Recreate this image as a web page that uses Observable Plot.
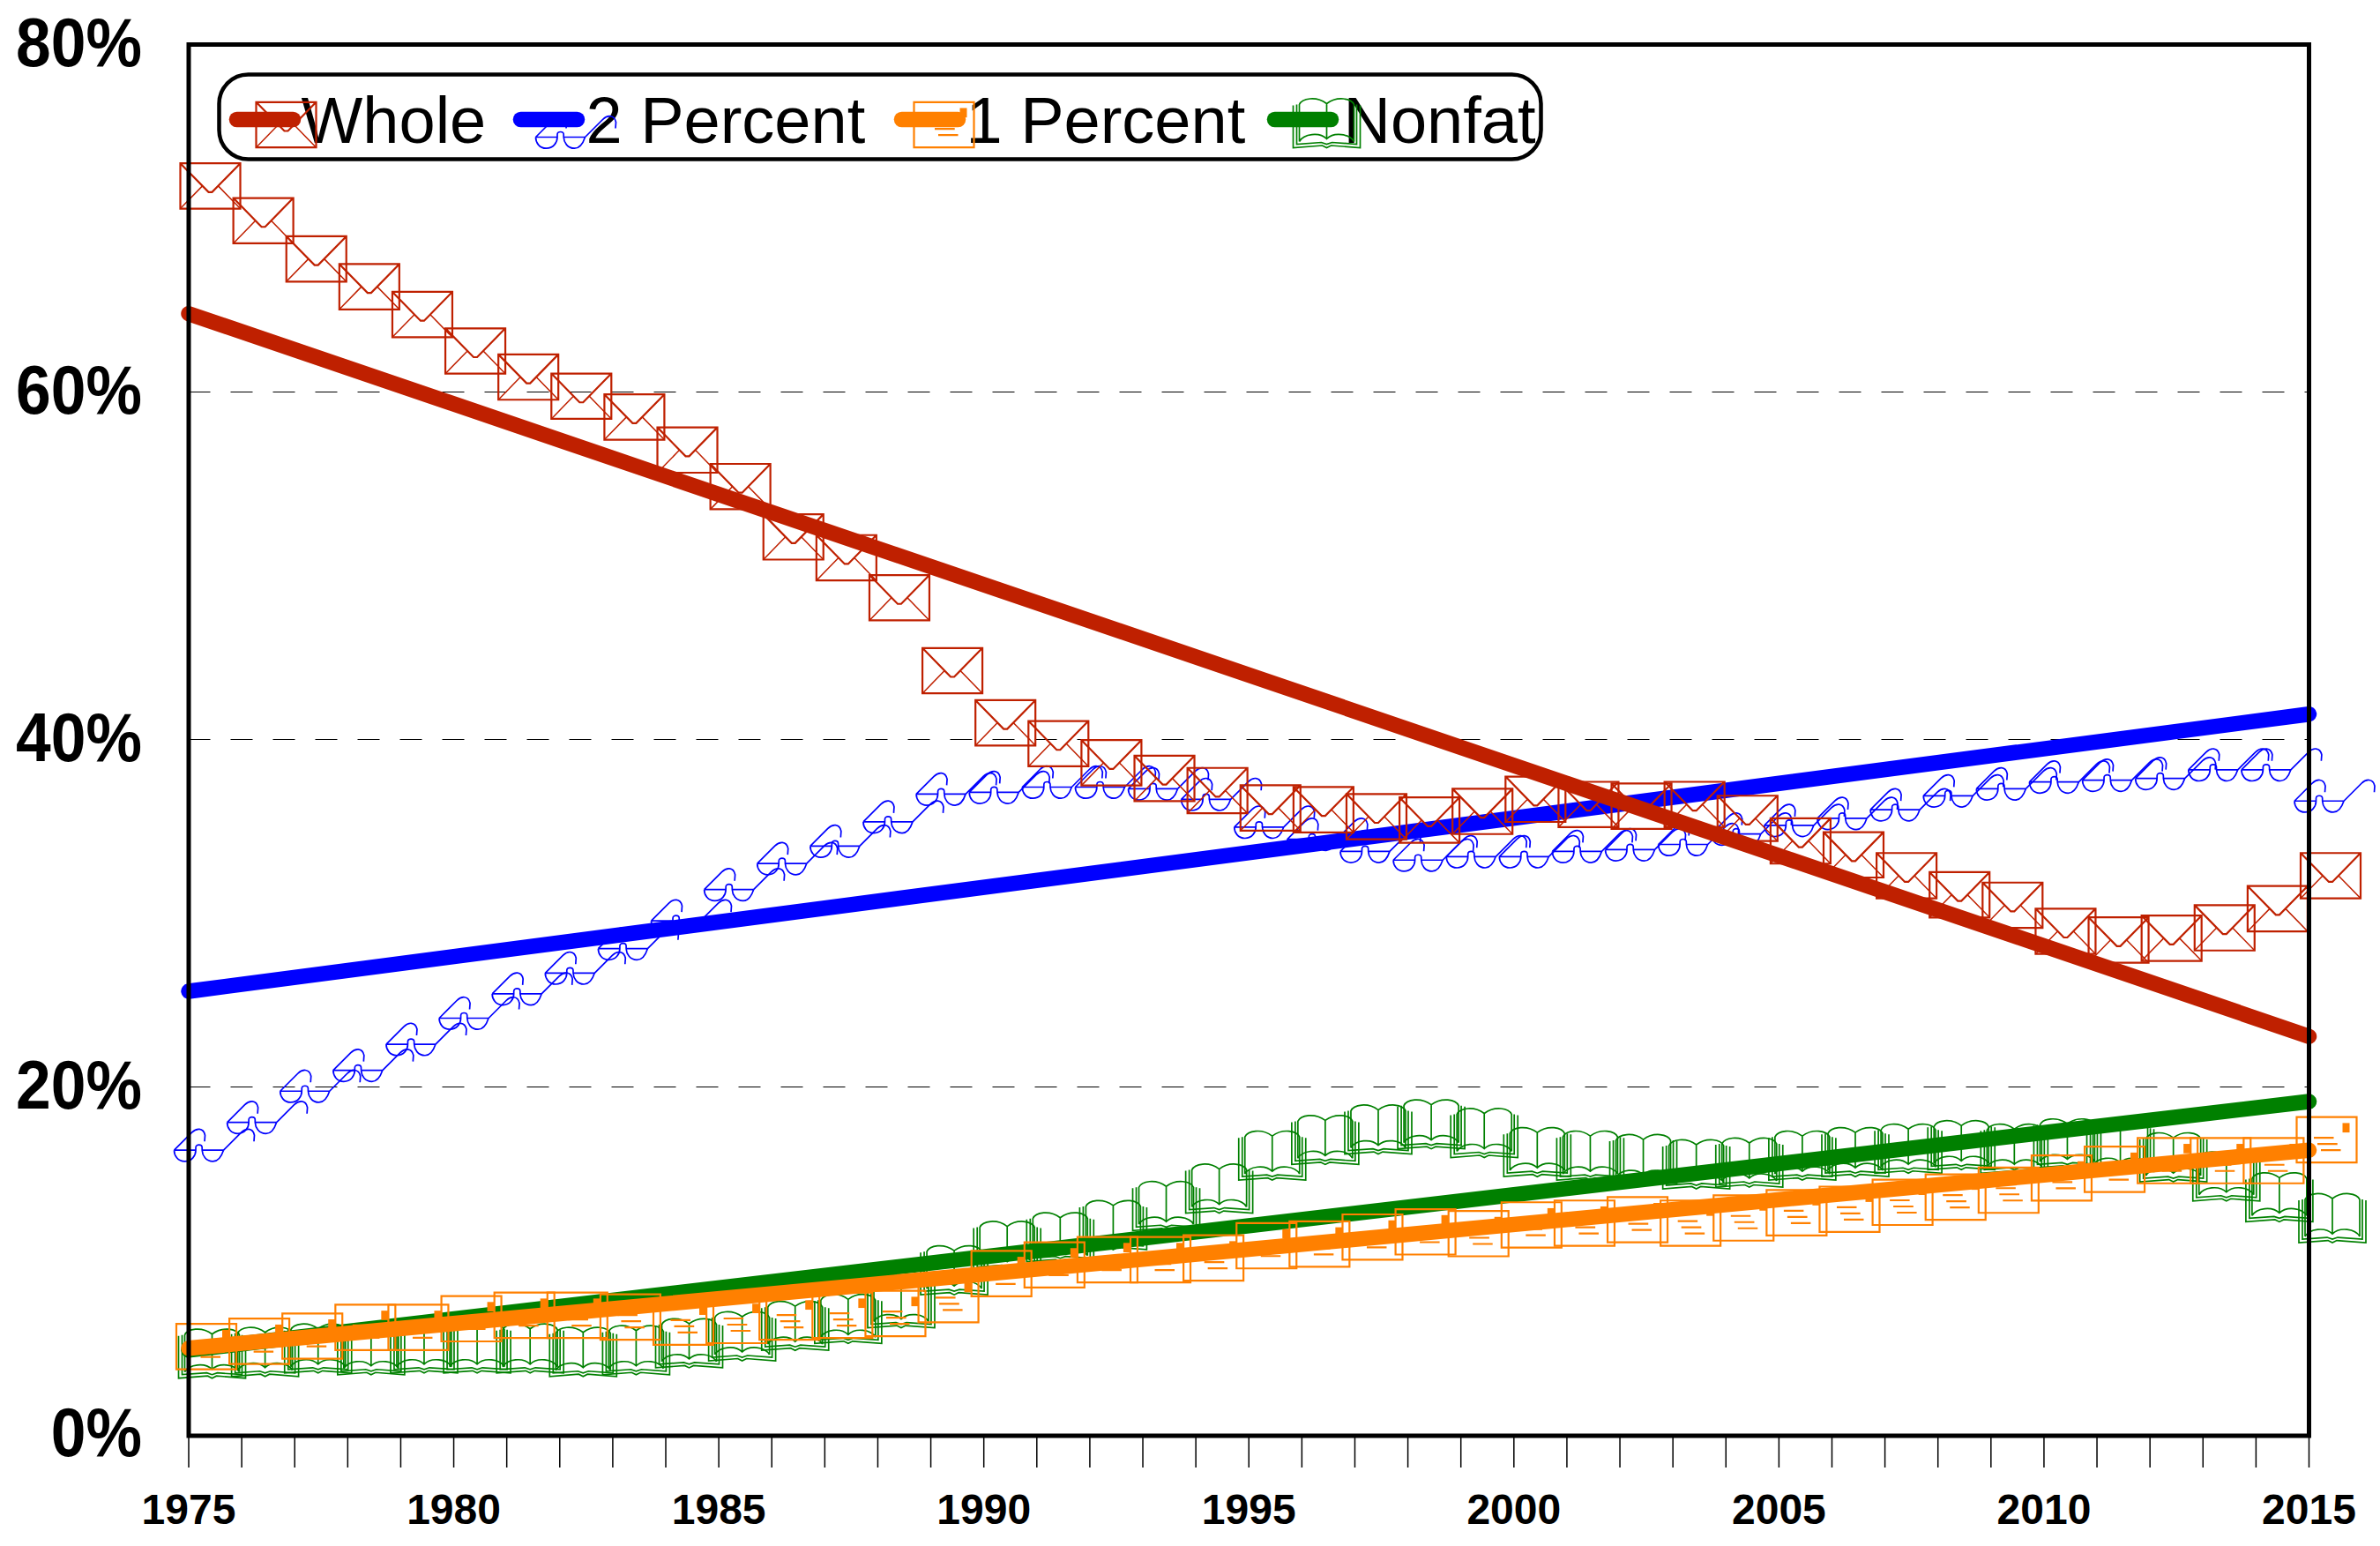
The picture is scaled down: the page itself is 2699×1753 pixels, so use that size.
<!DOCTYPE html>
<html>
<head>
<meta charset="utf-8">
<script src="https://cdn.jsdelivr.net/npm/d3@7"></script>
<script src="https://cdn.jsdelivr.net/npm/@observablehq/plot@0.6"></script>
<style>html,body{margin:0;padding:0;background:#fff}svg{display:block}</style>
</head>
<body>
<div id="chart"></div>
<script>
// ---- data (percent) ----
const years = d3.range(1975, 2016);
const labelYears = [1975,1980,1985,1990,1995,2000,2005,2010,2015];
const percentTicks = [0,20,40,60,80];
const gridValues = [20,40,60];
const whole = [71.9,69.9,67.7,66.1,64.5,62.4,60.9,59.8,58.6,56.7,54.6,51.7,50.5,48.2,44.0,41.0,39.8,38.7,37.8,37.1,36.1,36.0,35.6,35.4,35.9,36.6,36.3,36.2,36.3,35.5,34.2,33.4,32.2,31.1,30.5,29.0,28.5,28.6,29.2,30.3,32.2];
const twoPercent = [16.4,18.0,19.8,21.0,22.5,24.0,25.4,26.6,28.0,29.6,31.4,32.9,33.9,35.3,36.9,37.0,37.3,37.3,37.2,36.6,35.0,34.3,33.6,33.1,33.3,33.3,33.6,33.7,34.0,34.6,35.1,35.5,36.0,36.8,37.2,37.6,37.7,37.8,38.3,38.3,36.5];
const onePercent = [5.1,5.4,5.7,6.2,6.2,6.7,6.9,6.9,6.8,6.5,6.6,6.8,6.9,7.0,7.8,9.3,9.8,10.1,10.1,10.2,10.9,11.0,11.4,11.7,11.6,12.1,12.2,12.4,12.2,12.5,12.8,13.0,13.4,13.7,14.1,14.8,15.3,15.8,15.8,15.8,17.0];
const nonfat = [4.7,4.8,5.0,4.9,5.0,5.0,5.0,4.8,4.9,5.3,5.7,6.3,6.7,7.6,9.5,10.9,11.4,12.1,13.2,14.2,16.1,17.0,17.6,17.9,17.4,16.3,16.1,15.9,15.6,15.7,16.1,16.3,16.5,16.7,16.5,16.8,16.6,16.0,14.9,13.7,12.5];
const trendYears = [1975, 2015];
const wholeTrend = [64.55, 22.95];
const twoTrend = [25.55, 41.5];
const oneTrend = [5.0, 16.4];
const nonfatTrend = [4.9, 19.2];
const names = ["Whole","2 Percent","1 Percent","Nonfat"];

// ---- styles ----
const RED="#bf2000", BLUE="#0000ff", ORANGE="#ff8000", GREEN="#008000";
const FONT='"Liberation Sans", Arial, sans-serif';
const crisp={shapeRendering:"crispEdges"};
const LINE=17.5;

// ---- marker shapes (Wingdings-like glyphs) ----
const envelopeOuter={draw(c){
  c.moveTo(-34,-25.7);c.lineTo(34,-25.7);c.lineTo(34,25.7);c.lineTo(-34,25.7);c.closePath();
  c.moveTo(-34,-25.7);c.lineTo(-2,7);c.lineTo(2,7);c.lineTo(34,-25.7);
}};
const envelopeInner={draw(c){
  c.moveTo(-34,25.7);c.lineTo(-9,0);
  c.moveTo(34,25.7);c.lineTo(9,0);
}};
function arm(c,x){
  c.moveTo(x,0);c.lineTo(x+20,-20);
  c.bezierCurveTo(x+25,-25,x+33,-26,x+35,-17);
  c.lineTo(x+34.5,-10);
}
const glasses={draw(c){
  c.moveTo(0,0);c.lineTo(24.5,0);
  c.moveTo(31.7,0);c.lineTo(56,0);
  c.moveTo(0,0);c.bezierCurveTo(0,6,4,12.7,12,12.7);c.bezierCurveTo(20,12.7,24.5,6,24.5,0);
  c.moveTo(31.7,0);c.bezierCurveTo(32,6,36,12.7,44,12.7);c.bezierCurveTo(50,12.7,54,6,56,0);
  c.moveTo(24.5,0);c.lineTo(24.5,-3);c.bezierCurveTo(24.5,-7,31.7,-7,31.7,-3);c.lineTo(31.7,0);
  arm(c,0);arm(c,56);
}};
const book={draw(c){
  c.moveTo(-38,-20);c.lineTo(-38,28);c.lineTo(-5,25.5);c.lineTo(0,28);c.lineTo(5,25.5);c.lineTo(38,28);c.lineTo(38,-20);
  c.moveTo(-34,-21);c.lineTo(-34,24);c.lineTo(-6,22);c.lineTo(0,24);c.lineTo(6,22);c.lineTo(34,24);c.lineTo(34,-21);
  c.moveTo(-31,21);c.lineTo(-31,-21);c.bezierCurveTo(-28,-28,-12,-31,0,-22);c.bezierCurveTo(12,-31,28,-28,31,-21);c.lineTo(31,21);
  c.moveTo(-31,21);c.bezierCurveTo(-26,12,-8,10,0,18);c.bezierCurveTo(8,10,26,12,31,21);
  c.moveTo(0,-22);c.lineTo(0,18);
}};
const letterFrame={draw(c){
  c.moveTo(-34,-25.7);c.lineTo(34,-25.7);c.lineTo(34,25.7);c.lineTo(-34,25.7);c.closePath();
  c.moveTo(-14.5,-2.3);c.lineTo(8,-2.3);
  c.moveTo(-10.5,4.7);c.lineTo(12.2,4.7);
  c.moveTo(-6.5,11.7);c.lineTo(16,11.7);
}};
const letterStamp={draw(c){
  c.moveTo(18,-19);c.lineTo(26,-19);c.lineTo(26,-8.3);c.lineTo(18,-8.3);c.closePath();
}};
const swatchLine={draw(c){c.moveTo(-32,0);c.lineTo(32,0);}};

// ---- helpers ----
const DY=0.8;
function glyphs(values,symbol,color,dx,sw){
  return Plot.dot(years,{x:d=>d,y:(d,i)=>values[i],symbol,fill:"none",stroke:color,strokeWidth:sw,r:3,dx,dy:DY,style:crisp});
}
function stamps(values,color,dx){
  return Plot.dot(years,{x:d=>d,y:(d,i)=>values[i],symbol:letterStamp,fill:color,stroke:"none",r:3,dx,dy:DY,style:crisp});
}
function trend(values,color){
  return Plot.line(trendYears,{x:d=>d,y:(d,i)=>values[i],stroke:color,strokeWidth:LINE,strokeLinecap:"round",dy:DY,style:crisp});
}
const ML=213.5, MT=50;
const at=(px,py)=>({frameAnchor:"top-left",dx:px-ML,dy:py-MT});
const lgGlyph=(symbol,color,sw,px,py)=>Plot.dot([0],{...at(px,py),symbol,fill:"none",stroke:color,strokeWidth:sw,r:3,style:crisp});
const lgLine=(color,px)=>Plot.dot([0],{...at(px,135),symbol:swatchLine,fill:"none",stroke:color,strokeWidth:LINE,strokeLinecap:"round",r:3,style:crisp});
const lgText=(name,px)=>Plot.text([name],{...at(px,161),text:d=>d,textAnchor:"start",lineAnchor:"bottom",fontSize:74,fill:"#000",fontFamily:FONT});

const chart=Plot.plot({
  width:2699,height:1753,
  marginLeft:ML,marginRight:81,marginTop:MT,marginBottom:127,
  style:{fontFamily:FONT,background:"#fff",color:"#000",overflow:"visible"},
  x:{domain:[1975,2015]},
  y:{domain:[0,80]},
  marks:[
    Plot.ruleY(gridValues,{stroke:"#000",strokeWidth:1,strokeDasharray:"25 23",style:crisp}),
    // Nonfat
    glyphs(nonfat,book,GREEN,26.5,1.7),
    trend(nonfatTrend,GREEN),
    // 1 Percent
    glyphs(onePercent,letterFrame,ORANGE,20,2.2),
    stamps(onePercent,ORANGE,20),
    trend(oneTrend,ORANGE),
    // 2 Percent
    glyphs(twoPercent,glasses,BLUE,-16.5,1.7),
    trend(twoTrend,BLUE),
    // Whole
    glyphs(whole,envelopeOuter,RED,24.5,2.2),
    glyphs(whole,envelopeInner,RED,24.5,1.5),
    trend(wholeTrend,RED),
    // axes
    Plot.axisX({ticks:years,tickSize:38,fill:"none",stroke:"#000",strokeWidth:1.5,label:null}),
    Plot.axisX({ticks:labelYears,tickSize:0,tickPadding:67,tickFormat:"d",fontSize:48,fontWeight:"bold",fill:"#000",label:null}),
    Plot.axisY({ticks:percentTicks,tickSize:0,tickPadding:53,tickFormat:d=>d+"%",fontSize:78,fontWeight:"bold",fill:"#000",label:null}),
    Plot.frame({stroke:"#000",strokeWidth:5,insetBottom:-1.5,style:crisp}),
    // legend
    Plot.frame({stroke:"#000",strokeWidth:4.5,rx:33,ry:33,insetLeft:248-ML,insetTop:84-MT,insetRight:2618-1747,insetBottom:1626-180}),
    lgText(names[0],341),
    lgGlyph(envelopeOuter,RED,2.2,324,141),
    lgGlyph(envelopeInner,RED,1.5,324,141),
    lgLine(RED,300),
    lgText(names[1],664),
    lgGlyph(glasses,BLUE,1.7,607,155),
    lgLine(BLUE,622),
    lgText(names[2],1095),
    lgGlyph(letterFrame,ORANGE,2.2,1070,141),
    Plot.dot([0],{...at(1070,141),symbol:letterStamp,fill:ORANGE,stroke:"none",r:3,style:crisp}),
    lgLine(ORANGE,1054),
    lgText(names[3],1523),
    lgGlyph(book,GREEN,1.7,1504,139),
    lgLine(GREEN,1477)
  ]
});
document.getElementById("chart").append(chart);
// the reference's percent labels are slightly condensed: fit them to their measured width
chart.querySelectorAll('g[aria-label="y-axis tick label"] text').forEach(t=>{
  const w=t.getComputedTextLength();
  t.setAttribute("textLength",(w*0.915).toFixed(1));
  t.setAttribute("lengthAdjust","spacingAndGlyphs");
});
</script>
</body>
</html>
